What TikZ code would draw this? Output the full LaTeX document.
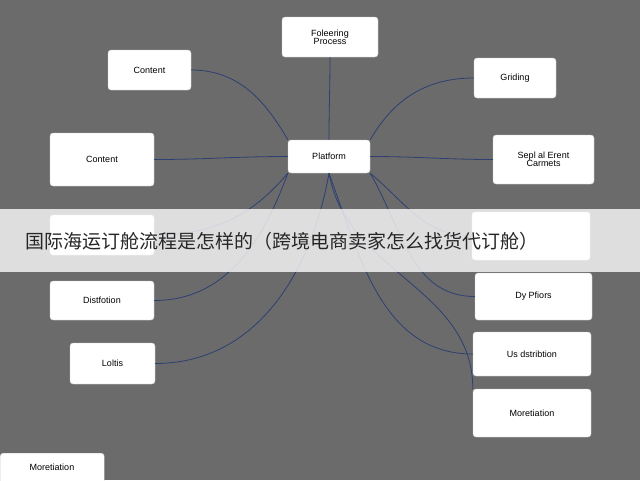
\documentclass[tikz,border=0pt]{standalone}
\usepackage{fontspec}
\setmainfont{Liberation Sans}
\newfontfamily\cjk{Noto Sans CJK SC}
\definecolor{bggray}{HTML}{6B6B6B}
\definecolor{linkblue}{HTML}{2E3F72}
\tikzset{
	box/.style={draw=gray!40, fill=white, rounded corners=3pt, align=center,
		font=\fontsize{9}{10}\selectfont, inner sep=0pt},
	link/.style={draw=linkblue, line width=0.8pt}
}
\begin{document}
\begin{tikzpicture}[x=1pt, y=-1pt]
	% Hintergrund
	\fill[bggray] (0,0) rectangle (640,480);
	\useasboundingbox (0,0) rectangle (640,480);
	% Knoten
	\node[box, minimum width=96, minimum height=40] (proc) at (330,37) {Foleering\\[-2pt]Process};
	\node[box, minimum width=83, minimum height=40] (cont1) at (149.5,70) {Content};
	\node[box, minimum width=82, minimum height=40] (grad) at (515,78) {Griding};
	\node[box, minimum width=104, minimum height=53] (cont2) at (102,159.5) {Content};
	\node[box, minimum width=82, minimum height=33] (plat) at (329,156.5) {Platform};
	\node[box, minimum width=101, minimum height=49] (sepl) at (543.5,159.5) {Sepl al Erent\\[-2pt]Carmets};
	\node[box, minimum width=104, minimum height=40] (hidl) at (102,235) {};
	\node[box, minimum width=118, minimum height=48] (hidr) at (531,236) {};
	\node[box, minimum width=104, minimum height=39] (dist) at (102,300.5) {Distfotion};
	\node[box, minimum width=117, minimum height=47] (dypf) at (533.5,296.5) {Dy Pfiors};
	\node[box, minimum width=85, minimum height=41] (loltis) at (112.5,363.5) {Loltis};
	\node[box, minimum width=118, minimum height=44] (usds) at (532,354) {Us dstribtion};
	\node[box, minimum width=118, minimum height=48] (moret) at (532,413) {Moretiation};
	\node[box, minimum width=104, minimum height=40, anchor=north west] (moret2) at (0,453) {};
	\node[font=\fontsize{9}{10}\selectfont] (moret2t) at (52,467) {Moretiation};
	% Verbindungen
	\draw[link] (plat.north) to[out=90, in=-90] (proc.south);
	\draw[link] (plat.north west) to[out=120, in=0] (cont1.east);
	\draw[link] (plat.north east) to[out=60, in=180] (grad.west);
	\draw[link] (plat.west) to[out=180, in=0] (cont2.east);
	\draw[link] (plat.east) to[out=0, in=180] (sepl.west);
	\draw[link] (plat.south west) to[out=-130, in=0] (hidl.east);
	\draw[link] (plat.south east) to[out=-40, in=180] (hidr.west);
	\draw[link] (plat.south west) to[out=-110, in=0] (dist.east);
	\draw[link] (plat.south) to[out=-100, in=0] (loltis.east);
	\draw[link] (plat.south east) to[out=-60, in=180] (dypf.west);
	\draw[link] (plat.south) to[out=-70, in=180] (usds.west);
	\draw[link] (plat.south) to[out=-80, in=90] (moret.north west);
	% Banner
	\fill[white, opacity=0.78] (0,209) rectangle (640,272);
	\node[anchor=west, font=\cjk\fontsize{19}{20}\selectfont, text=black!85] (title) at (22,241)
		{国际海运订舱流程是怎样的（跨境电商卖家怎么找货代订舱）};
\end{tikzpicture}
\end{document}
